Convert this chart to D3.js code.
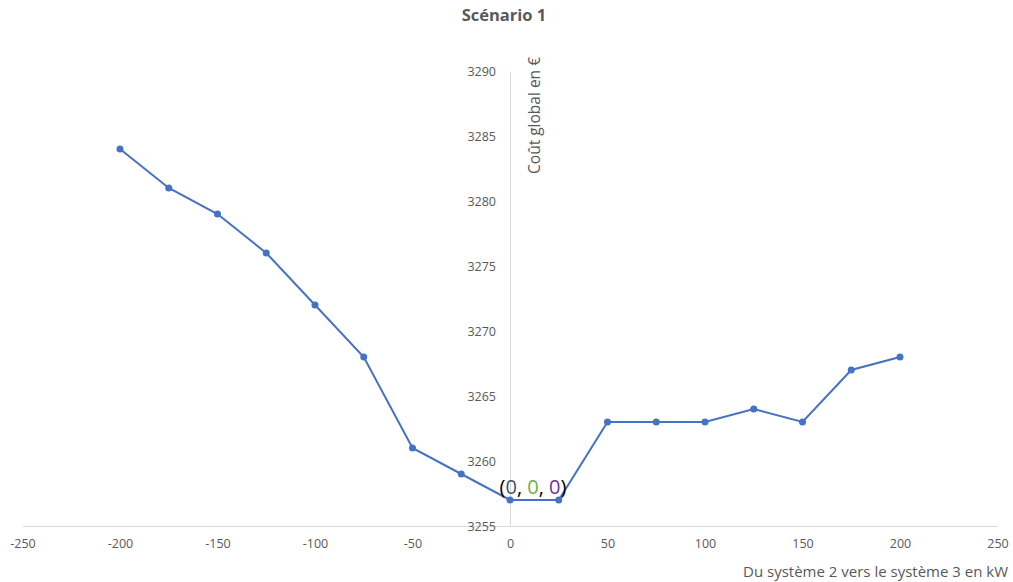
<!DOCTYPE html>
<html><head><meta charset="utf-8">
<script src="https://cdn.jsdelivr.net/npm/d3@7"></script>
<style>body{margin:0;background:#fff}text{font-family:"Open Sans","Liberation Sans",sans-serif}</style>
</head><body><svg id="c" width="1013" height="582"></svg>
<script>
const xValues = [-200,-175,-150,-125,-100,-75,-50,-25,0,25,50,75,100,125,150,175,200];
const yValues = [3284,3281,3279,3276,3272,3268,3261,3259,3257,3257,3263,3263,3263,3264,3263,3267,3268];
const xTicks = [-250,-200,-150,-100,-50,0,50,100,150,200,250];
const yTicks = [3255,3260,3265,3270,3275,3280,3285,3290];
const title = "Scénario 1";
const xTitle = "Du système 2 vers le système 3 en kW";
const yTitle = "Coût global en €";
const labelParts = [["(", "#000"],["0","#44546A"],[", ","#000"],["0","#70AD47"],[", ","#000"],["0","#7030A0"],[")","#000"]];

const svg = d3.select("#c");
const x = d3.scaleLinear().domain([-250,250]).range([22.5,997.5]);
const y = d3.scaleLinear().domain([3255,3290]).range([526,71]);

// x axis
const xa = svg.append("g").attr("transform",`translate(0,${y(3255)})`)
  .call(d3.axisBottom(x).tickValues(xTicks).tickSize(0).tickPadding(13).tickFormat(d=>String(d)));
xa.select(".domain").attr("stroke","#d9d9d9");
xa.selectAll("text").attr("fill","#595959").attr("font-size",12.5);

// y axis
const ya = svg.append("g").attr("transform",`translate(${x(0)},0)`)
  .call(d3.axisLeft(y).tickValues(yTicks).tickSize(0).tickPadding(14).tickFormat(d=>String(d)));
ya.select(".domain").attr("stroke","#d9d9d9");
ya.selectAll("text").attr("fill","#595959").attr("font-size",12.5);

// titles
svg.append("text").attr("x",504).attr("y",21).attr("text-anchor","middle")
  .attr("font-size",16.5).attr("font-weight","bold").attr("fill","#595959").text(title);
svg.append("text").attr("x",1008).attr("y",577).attr("text-anchor","end")
  .attr("font-size",15).attr("fill","#595959").text(xTitle);
svg.append("text").attr("transform",`translate(540,57) rotate(-90)`).attr("text-anchor","end")
  .attr("font-size",15.5).attr("fill","#595959").text(yTitle);

const pts = xValues.map((d,i)=>[d,yValues[i]]);
svg.append("path").datum(pts)
  .attr("d", d3.line().x(d=>x(d[0])).y(d=>y(d[1])))
  .attr("fill","none").attr("stroke","#4472C4").attr("stroke-width",2);
svg.selectAll("circle.p").data(pts).join("circle").attr("class","p")
  .attr("cx",d=>x(d[0])).attr("cy",d=>y(d[1])).attr("r",3.5).attr("fill","#4472C4");

// data label
const lbl = svg.append("text").attr("x",x(0)+23).attr("y",y(3257)-6).attr("text-anchor","middle")
  .attr("font-size",20);
lbl.selectAll("tspan").data(labelParts).join("tspan").attr("fill",d=>d[1]).text(d=>d[0]);
</script></body></html>
